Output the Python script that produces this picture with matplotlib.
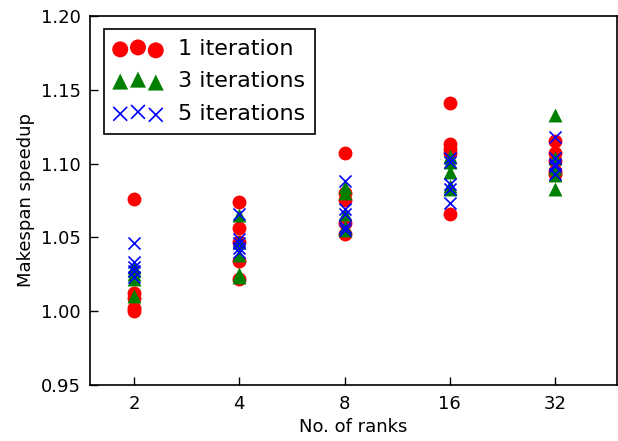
import matplotlib
matplotlib.use("Agg")
import matplotlib.pyplot as plt
import numpy as np

ranks = ["2", "4", "8", "16", "32"]

it1 = [
    [1.076, 1.012, 1.009, 1.002, 1.000],
    [1.074, 1.056, 1.047, 1.034, 1.022],
    [1.107, 1.080, 1.075, 1.060, 1.052],
    [1.141, 1.113, 1.110, 1.107, 1.066],
    [1.115, 1.107, 1.102, 1.095, 1.093],
]
it3 = [
    [1.010, 1.022, 1.025, 1.028, 1.030],
    [1.065, 1.047, 1.038, 1.025, 1.023],
    [1.084, 1.080, 1.066, 1.057, 1.055],
    [1.105, 1.101, 1.094, 1.085, 1.083],
    [1.133, 1.104, 1.097, 1.092, 1.083],
]
it5 = [
    [1.046, 1.033, 1.030, 1.027, 1.023],
    [1.066, 1.049, 1.046, 1.043, 1.040],
    [1.088, 1.069, 1.066, 1.057, 1.055],
    [1.104, 1.101, 1.086, 1.083, 1.073],
    [1.118, 1.104, 1.098, 1.093, 1.100],
]

plt.rcParams['font.family'] = ['DejaVu Sans']
plt.rcParams['font.size'] = 13

fig = plt.figure(figsize=(6.18, 4.41), dpi=100)
ax = fig.add_axes([0.146, 0.127, 0.852, 0.837])

def xs(groups):
    x, y = [], []
    for i, g in enumerate(groups):
        x += [i] * len(g)
        y += g
    return x, y

x1, y1 = xs(it1)
x3, y3 = xs(it3)
x5, y5 = xs(it5)
ax.scatter(x1, y1, s=100, c='red', marker='o', linewidths=0, label='1 iteration', zorder=3)
ax.scatter(x3, y3, s=100, c='green', marker='^', linewidths=0, label='3 iterations', zorder=3)
ax.scatter(x5, y5, s=75, c='blue', marker='x', linewidths=1.2, label='5 iterations', zorder=3)

ax.set_xlim(-0.415, 4.585)
ax.set_ylim(0.95, 1.20)
ax.set_xticks(range(len(ranks)))
ax.set_xticklabels(ranks)
ax.set_yticks(np.arange(0.95, 1.2001, 0.05))
ax.set_yticklabels(["%.2f" % v for v in np.arange(0.95, 1.2001, 0.05)])
ax.tick_params(direction='in', length=6, width=1, top=False, right=False, labelsize=13, pad=7)
for sp in ax.spines.values():
    sp.set_linewidth(1.2)
ax.set_xlabel("No. of ranks", fontsize=13)
ax.set_ylabel("Makespan speedup", labelpad=4, fontsize=13)

leg = ax.legend(loc='upper left', scatterpoints=3, scatteryoffsets=[0.375, 0.5, 0.3125],
                fontsize=16, fancybox=False, framealpha=1, edgecolor='black', markerscale=1.15,
                borderaxespad=0.6, borderpad=0.45, handletextpad=0.7, labelspacing=0.55,
                handlelength=2.2)
leg.get_frame().set_linewidth(1.2)

fig.savefig("out.png", dpi=100)
